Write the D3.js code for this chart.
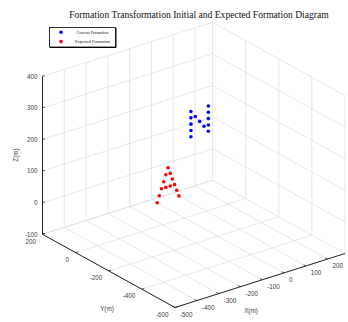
<!DOCTYPE html>
<html>
<head>
<meta charset="utf-8">
<script src="https://cdn.jsdelivr.net/npm/d3@7"></script>
<style>
  html, body { margin: 0; padding: 0; background: #fff; }
  svg { display: block; }
</style>
</head>
<body>
<div id="chart"></div>
<script>
// Axis limits and ticks
const xDomain = [-500, 280];
const yDomain = [-600, 200];
const zDomain = [-100, 400];
const xTicks = [-500, -400, -300, -200, -100, 0, 100, 200];
const yTicks = [-600, -400, -200, 0, 200];
const zTicks = [-100, 0, 100, 200, 300, 400];

// Current formation (blue)
const currentX = [105, 105, 105, 105, 105, 125, 145, 165, 185, 185, 185, 185, 185];
const currentY = [100, 100, 100, 100, 100, 100, 100, 100, 100, 100, 100, 100, 100];
const currentZ = [185, 165, 145, 125, 105, 165, 145, 125, 185, 165, 145, 125, 105];

// Expected formation (red)
const expectedX = [0, -10, -20, -30, -40, -50, 10, 20, 30, 40, 50, -10, 10];
const expectedY = [100, 100, 100, 100, 100, 100, 100, 100, 100, 100, 100, 100, 100];
const expectedZ = [30, 10, -10, -30, -50, -70, 10, -10, -30, -50, -70, -30, -30];

const width = 348, height = 322;

const svg = d3.select('#chart').append('svg')
    .attr('width', width)
    .attr('height', height);

// unit scales for each axis, then an oblique (view) projection
const sx = d3.scaleLinear().domain(xDomain).range([0, 1]);
const sy = d3.scaleLinear().domain(yDomain).range([0, 1]);
const sz = d3.scaleLinear().domain(zDomain).range([0, 1]);

const origin = [175, 307.5];   // corner x=-500, y=-600, z=-100
const EX = [170, -54];
const EY = [-132.5, -73.2];
const EZ = [0, -158];

function proj(x, y, z) {
    const a = sx(x), b = sy(y), c = sz(z);
    return [origin[0] + a * EX[0] + b * EY[0] + c * EZ[0],
            origin[1] + a * EX[1] + b * EY[1] + c * EZ[1]];
}

const xMin = xDomain[0], xMax = xDomain[1];
const yMin = yDomain[0], yMax = yDomain[1];
const zMin = zDomain[0], zMax = zDomain[1];

// grid segments on the three back planes
const grid = [];
xTicks.forEach(x => {
    grid.push([[x, yMin, zMin], [x, yMax, zMin]]);   // floor
    grid.push([[x, yMax, zMin], [x, yMax, zMax]]);   // back-left wall
});
yTicks.forEach(y => {
    grid.push([[xMin, y, zMin], [xMax, y, zMin]]);   // floor
    grid.push([[xMax, y, zMin], [xMax, y, zMax]]);   // back-right wall
});
zTicks.forEach(z => {
    grid.push([[xMin, yMax, z], [xMax, yMax, z]]);   // back-left wall
    grid.push([[xMax, yMin, z], [xMax, yMax, z]]);   // back-right wall
});

svg.append('g').selectAll('line')
    .data(grid)
    .enter().append('line')
    .attr('x1', d => proj(...d[0])[0])
    .attr('y1', d => proj(...d[0])[1])
    .attr('x2', d => proj(...d[1])[0])
    .attr('y2', d => proj(...d[1])[1])
    .attr('stroke', '#dedede')
    .attr('stroke-width', 0.7);

// axis lines
const axisColor = '#262626';
const axes = [
    [[xMin, yMax, zMin], [xMin, yMax, zMax]],   // z
    [[xMin, yMin, zMin], [xMin, yMax, zMin]],   // y
    [[xMin, yMin, zMin], [xMax, yMin, zMin]]    // x
];
svg.append('g').selectAll('line')
    .data(axes)
    .enter().append('line')
    .attr('x1', d => proj(...d[0])[0])
    .attr('y1', d => proj(...d[0])[1])
    .attr('x2', d => proj(...d[1])[0])
    .attr('y2', d => proj(...d[1])[1])
    .attr('stroke', axisColor)
    .attr('stroke-width', 1);

// tick marks
const tickLen = 2.5;
const ux = Math.hypot(EX[0], EX[1]), uy = Math.hypot(EY[0], EY[1]);
const dirX = [EX[0] / ux * tickLen, EX[1] / ux * tickLen];
const dirY = [EY[0] / uy * tickLen, EY[1] / uy * tickLen];

const ticks = [];
zTicks.forEach(z => ticks.push({ p: proj(xMin, yMax, z), d: dirX }));
yTicks.forEach(y => ticks.push({ p: proj(xMin, y, zMin), d: dirX }));
xTicks.forEach(x => ticks.push({ p: proj(x, yMin, zMin), d: dirY }));

svg.append('g').selectAll('line')
    .data(ticks)
    .enter().append('line')
    .attr('x1', d => d.p[0])
    .attr('y1', d => d.p[1])
    .attr('x2', d => d.p[0] + d.d[0])
    .attr('y2', d => d.p[1] + d.d[1])
    .attr('stroke', axisColor)
    .attr('stroke-width', 0.8);

// tick labels
const labelFont = 'Liberation Sans, Arial, sans-serif';
const fmt = d => String(d);
const labels = svg.append('g')
    .attr('font-family', labelFont)
    .attr('font-size', 6.3)
    .attr('fill', '#404040');

labels.selectAll('.zl')
    .data(zTicks)
    .enter().append('text')
    .attr('x', d => proj(xMin, yMax, d)[0] - 5)
    .attr('y', d => proj(xMin, yMax, d)[1] + 2.2)
    .attr('text-anchor', 'end')
    .text(fmt);

labels.selectAll('.yl')
    .data(yTicks)
    .enter().append('text')
    .attr('x', d => proj(xMin, d, zMin)[0] - 6.5)
    .attr('y', d => proj(xMin, d, zMin)[1] + 9.2)
    .attr('text-anchor', 'end')
    .text(fmt);

labels.selectAll('.xl')
    .data(xTicks)
    .enter().append('text')
    .attr('x', d => proj(d, yMin, zMin)[0] + 5)
    .attr('y', d => proj(d, yMin, zMin)[1] + 9.2)
    .attr('text-anchor', 'start')
    .text(fmt);

// axis titles
labels.append('text')
    .attr('transform', 'translate(18,155) rotate(-90)')
    .attr('text-anchor', 'middle')
    .text('Z(m)');
labels.append('text')
    .attr('x', 107).attr('y', 310.5)
    .attr('text-anchor', 'middle')
    .text('Y(m)');
labels.append('text')
    .attr('x', 251).attr('y', 313)
    .attr('text-anchor', 'middle')
    .text('X(m)');

// formation points
const current = currentX.map((x, i) => [x, currentY[i], currentZ[i]]);
const expected = expectedX.map((x, i) => [x, expectedY[i], expectedZ[i]]);

svg.append('g').selectAll('circle')
    .data(current)
    .enter().append('circle')
    .attr('cx', d => proj(...d)[0])
    .attr('cy', d => proj(...d)[1])
    .attr('r', 1.8)
    .attr('fill', '#0000ff');

svg.append('g').selectAll('circle')
    .data(expected)
    .enter().append('circle')
    .attr('cx', d => proj(...d)[0])
    .attr('cy', d => proj(...d)[1])
    .attr('r', 1.8)
    .attr('fill', '#ff0000');

// title
svg.append('text')
    .attr('x', 199)
    .attr('y', 17.5)
    .attr('text-anchor', 'middle')
    .attr('font-family', 'Liberation Serif, Times New Roman, serif')
    .attr('font-size', 9.6)
    .attr('fill', '#111')
    .text('Formation Transformation Initial and Expected Formation Diagram');

// legend
const legendItems = [
    { name: 'Current Formation', color: '#0000ff' },
    { name: 'Expected Formation', color: '#ff0000' }
];
const legend = svg.append('g').attr('transform', 'translate(49.5,27.5)');
legend.append('rect')
    .attr('width', 66)
    .attr('height', 19.5)
    .attr('fill', '#fff')
    .attr('stroke', '#000')
    .attr('stroke-width', 0.8);
legend.append('path')
    .attr('d', 'M66.5,0.5V20H0.5')
    .attr('fill', 'none')
    .attr('stroke', '#000')
    .attr('stroke-width', 1);
const li = legend.selectAll('.li')
    .data(legendItems)
    .enter().append('g')
    .attr('transform', (d, i) => `translate(0,${4.8 + i * 9.3})`);
li.append('circle')
    .attr('cx', 11.5)
    .attr('cy', 0)
    .attr('r', 1.8)
    .attr('fill', d => d.color);
li.append('text')
    .attr('x', d => d.name.startsWith('Current') ? 27 : 25.5)
    .attr('y', 1.5)
    .attr('font-family', 'Liberation Serif, Times New Roman, serif')
    .attr('font-size', 4.3)
    .attr('fill', '#111')
    .text(d => d.name);
</script>
</body>
</html>
